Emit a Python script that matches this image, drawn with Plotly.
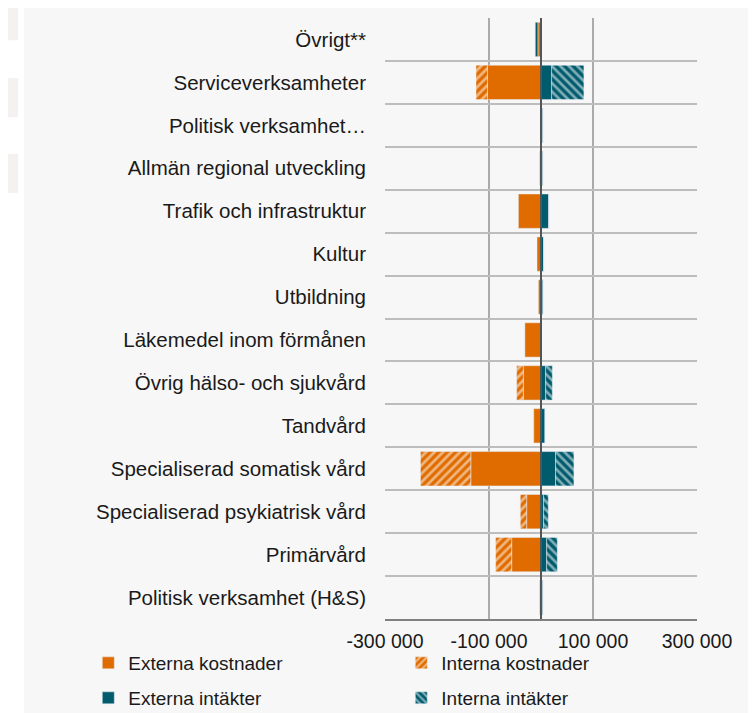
import plotly.graph_objects as go

categories = [
    "Övrigt**",
    "Serviceverksamheter",
    "Politisk verksamhet…",
    "Allmän regional utveckling",
    "Trafik och infrastruktur",
    "Kultur",
    "Utbildning",
    "Läkemedel inom förmånen",
    "Övrig hälso- och sjukvård",
    "Tandvård",
    "Specialiserad somatisk vård",
    "Specialiserad psykiatrisk vård",
    "Primärvård",
    "Politisk verksamhet (H&S)",
]

externa_kostnader = [-6000, -103000, -1000, -2500, -43500, -7700, -5000, -31000, -34000, -14000, -135000, -27600, -56400, -2500]
interna_kostnader = [0, -22000, 0, 0, 0, 0, 0, 0, -12800, 0, -96800, -12200, -30800, 0]
externa_intakter = [-5000, 20500, 3500, 3500, 14800, 5000, 3800, 0, 9000, 7700, 28000, 5000, 10900, 3500]
interna_intakter = [0, 62000, 0, 0, 0, 0, 0, 0, 12800, 0, 35300, 9000, 20500, 0]

x_ticks = [-300000, -100000, 100000, 300000]
x_ticktext = ["-300 000", "-100 000", "100 000", "300 000"]

ORANGE = "#e06c00"
TEAL = "#005b6d"
FONT = "Liberation Sans, Arial"

fig = go.Figure()
fig.add_trace(go.Bar(y=categories, x=externa_kostnader, orientation="h", name="Externa kostnader",
                     marker=dict(color=ORANGE), legend="legend"))
fig.add_trace(go.Bar(y=categories, x=interna_kostnader, orientation="h", name="Interna kostnader",
                     marker=dict(color=ORANGE, pattern=dict(shape="/", fgcolor="white", bgcolor=ORANGE,
                                                            size=6, solidity=0.45, fillmode="overlay")),
                     legend="legend"))
fig.add_trace(go.Bar(y=categories, x=externa_intakter, orientation="h", name="Externa intäkter",
                     marker=dict(color=TEAL), legend="legend2"))
fig.add_trace(go.Bar(y=categories, x=interna_intakter, orientation="h", name="Interna intäkter",
                     marker=dict(color=TEAL, pattern=dict(shape="\\", fgcolor="white", bgcolor=TEAL,
                                                          size=6, solidity=0.45, fillmode="overlay")),
                     legend="legend2"))

# grey chart panel + the faint blocks at the left edge of the screenshot
shapes = [dict(type="rect", xref="paper", yref="paper", x0=-1.157, x1=1.163, y0=-0.157, y1=1.03,
               fillcolor="#f7f7f7", line_width=0, layer="below")]
for y0, y1 in [(0.963, 1.03), (0.835, 0.900), (0.709, 0.774)]:
    shapes.append(dict(type="rect", xref="paper", yref="paper", x0=-1.21, x1=-1.176, y0=y0, y1=y1,
                       fillcolor="#f4f1f0", line_width=0, layer="below"))
# zero line drawn over the bars
shapes.append(dict(type="line", xref="x", yref="paper", x0=0, x1=0, y0=0, y1=1,
                   line=dict(color="#555555", width=2), layer="above"))

legend_common = dict(orientation="h", xanchor="left", yanchor="middle", entrywidth=268,
                     entrywidthmode="pixels", bgcolor="rgba(0,0,0,0)", itemwidth=30,
                     font=dict(family=FONT, size=19, color="#1a1a1a"))

fig.update_layout(
    width=748, height=705,
    margin=dict(l=377, r=59, t=10, b=94, autoexpand=False),
    barmode="relative",
    bargap=0.2,
    paper_bgcolor="white",
    plot_bgcolor="#f7f7f7",
    font=dict(family=FONT, size=20.5, color="#1a1a1a"),
    shapes=shapes,
    legend=dict(x=-0.951, y=-0.0732, **legend_common),
    legend2=dict(x=-0.951, y=-0.1314, **legend_common),
    xaxis=dict(range=[-300000, 300000], tickvals=x_ticks, ticktext=x_ticktext,
               tickfont=dict(size=19.5),
               showgrid=True, gridcolor="#ababab", gridwidth=1.5,
               zeroline=False,
               showline=True, linecolor="#808080", linewidth=2,
               ticks="", ticklabelstandoff=4),
    yaxis=dict(type="category", autorange="reversed", tickson="boundaries",
               showgrid=True, gridcolor="#bdbdbd", gridwidth=2,
               ticks="", ticklabelstandoff=18),
)

fig.write_html("out.html")
